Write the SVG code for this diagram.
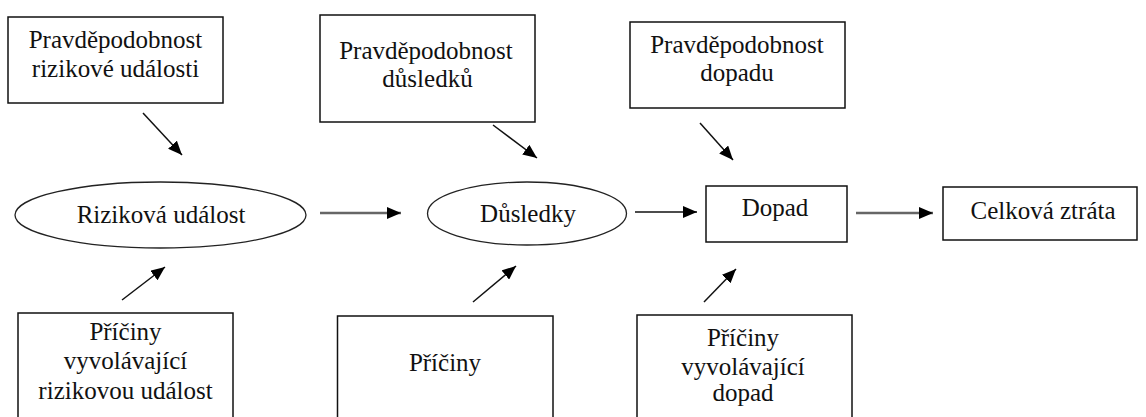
<svg xmlns="http://www.w3.org/2000/svg" width="1146" height="417" viewBox="0 0 1146 417">
<style>
.box{fill:#fff;stroke:#111;stroke-width:1.5}
.ell{fill:#fff;stroke:#222;stroke-width:1.3}
.t{font-family:'Liberation Serif','Times New Roman',Tinos,'DejaVu Serif',serif;font-size:25px;fill:#111;text-anchor:middle}
.ln{stroke:#111;stroke-width:1.5;fill:none;marker-end:url(#ah)}
.soft{stroke:#666;stroke-width:2.6;fill:none;marker-end:url(#ah)}
</style>
<defs>
<marker id="ah" markerUnits="userSpaceOnUse" markerWidth="15" markerHeight="12" refX="14" refY="6" orient="auto">
<path d="M0,0 L14,6 L0,12 z" fill="#000"/>
</marker>
</defs>
<rect width="1146" height="417" fill="#fff"/>
<g id="p-riziko">
<rect class="box" x="8" y="17" width="215" height="86"/>
<text class="t" font-family="Liberation Serif, serif" x="115.5" y="48">Pravděpodobnost</text>
<text class="t" font-family="Liberation Serif, serif" x="115.5" y="77">rizikové události</text>
</g>
<g id="p-dusledky">
<rect class="box" x="320" y="15" width="215" height="107"/>
<text class="t" font-family="Liberation Serif, serif" x="426" y="59">Pravděpodobnost</text>
<text class="t" font-family="Liberation Serif, serif" x="427.5" y="87">důsledků</text>
</g>
<g id="p-dopad">
<rect class="box" x="630" y="22" width="215" height="86"/>
<text class="t" font-family="Liberation Serif, serif" x="737" y="53">Pravděpodobnost</text>
<text class="t" font-family="Liberation Serif, serif" x="737" y="81">dopadu</text>
</g>
<g id="rizikova-udalost">
<ellipse class="ell" cx="160.5" cy="215" rx="145.5" ry="33"/>
<text class="t" font-family="Liberation Serif, serif" x="161" y="223">Riziková událost</text>
</g>
<g id="dusledky">
<ellipse class="ell" cx="527" cy="213.5" rx="99.5" ry="31.5"/>
<text class="t" font-family="Liberation Serif, serif" x="528" y="222">Důsledky</text>
</g>
<g id="dopad">
<rect class="box" x="706" y="186" width="141" height="56"/>
<text class="t" font-family="Liberation Serif, serif" x="775" y="216">Dopad</text>
</g>
<g id="celkova-ztrata">
<rect class="box" x="943" y="187" width="194" height="53"/>
<text class="t" font-family="Liberation Serif, serif" x="1043" y="219">Celková ztráta</text>
</g>
<g id="pricina-riziko">
<rect class="box" x="18" y="313" width="215" height="120"/>
<text class="t" font-family="Liberation Serif, serif" x="125.5" y="340">Příčiny</text>
<text class="t" font-family="Liberation Serif, serif" x="125.5" y="369">vyvolávající</text>
<text class="t" font-family="Liberation Serif, serif" x="125.5" y="399">rizikovou událost</text>
</g>
<g id="priciny">
<rect class="box" x="337.5" y="316" width="215.5" height="120"/>
<text class="t" font-family="Liberation Serif, serif" x="445" y="371">Příčiny</text>
</g>
<g id="pricina-dopad">
<rect class="box" x="637" y="315" width="215" height="120"/>
<text class="t" font-family="Liberation Serif, serif" x="743" y="346">Příčiny</text>
<text class="t" font-family="Liberation Serif, serif" x="743" y="375">vyvolávající</text>
<text class="t" font-family="Liberation Serif, serif" x="743" y="401">dopad</text>
</g>
<g id="connectors">
<line class="ln" x1="143" y1="113" x2="182" y2="155"/>
<line class="ln" x1="493" y1="125" x2="537" y2="158"/>
<line class="ln" x1="700" y1="123" x2="733" y2="160"/>
<line class="soft" x1="320" y1="213" x2="401" y2="213"/>
<line class="ln" x1="635" y1="212" x2="697" y2="212"/>
<line class="soft" x1="856" y1="213" x2="933" y2="213"/>
<line class="ln" x1="122" y1="300" x2="165" y2="267"/>
<line class="ln" x1="473" y1="302" x2="516" y2="266"/>
<line class="ln" x1="704" y1="302" x2="736" y2="269"/>
</g>
</svg>
